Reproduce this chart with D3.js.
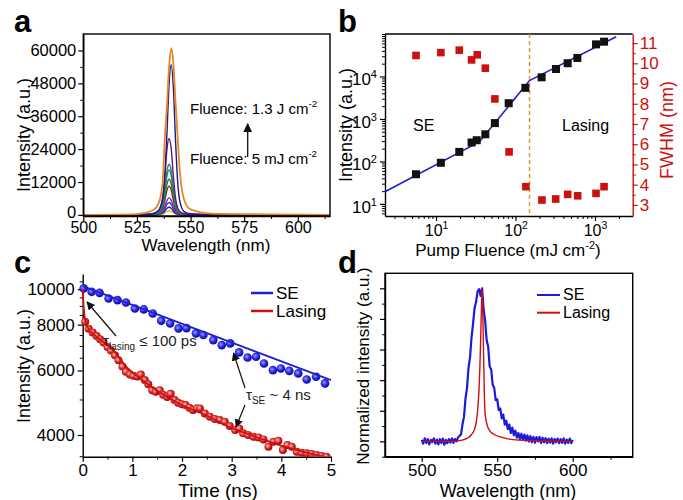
<!DOCTYPE html>
<html>
<head>
<meta charset="utf-8">
<script src="https://cdn.jsdelivr.net/npm/d3@7"></script>
<style>
  body { margin: 0; background: #fff; }
  svg text { font-family: "Liberation Sans", Arial, sans-serif; }
</style>
</head>
<body>
<svg id="fig" width="683" height="500"></svg>
<script>
// ---------- panel a : emission spectra at increasing fluence ----------
var aWave   = [500, 525, 532, 535, 537, 538, 539, 540, 541, 542, 543, 544, 545, 547, 550, 560, 615];
var aYellow = [0, 5, 20, 80, 320, 750, 1300, 1500, 1300, 750, 320, 140, 65, 20, 8, 3, 0];
var aNavy2  = [0, 5, 40, 150, 600, 1400, 2400, 2800, 2400, 1400, 600, 250, 120, 40, 15, 5, 0];
var aBlue   = [0, 10, 60, 240, 970, 2270, 3870, 4500, 3870, 2270, 970, 400, 190, 60, 25, 10, 0];
var aViolet = [0, 10, 90, 330, 1330, 3100, 5300, 6200, 5300, 3100, 1330, 560, 270, 90, 35, 10, 0];
var aBrown  = [0, 20, 150, 560, 2250, 5300, 9000, 10500, 9000, 5300, 2250, 950, 450, 150, 60, 20, 0];
var aDkGreen= [0, 20, 180, 700, 2800, 6600, 11200, 13000, 11200, 6600, 2800, 1200, 560, 180, 70, 20, 0];
var aGreen  = [0, 30, 230, 900, 3500, 8400, 14200, 16500, 14200, 8400, 3500, 1500, 700, 230, 90, 30, 0];
var aTeal   = [0, 30, 250, 1000, 4000, 9500, 16000, 18500, 16000, 9500, 4000, 1700, 800, 260, 100, 30, 0];
var aPurple = [0, 50, 400, 1500, 6000, 14000, 24000, 27900, 24000, 14000, 6000, 2500, 1200, 400, 150, 50, 0];
var aNavy   = [0, 50, 300, 1500, 6000, 14000, 30000, 48000, 54800, 46000, 27000, 12000, 5000, 1200, 400, 100, 0];
var aOrange = [0, 300, 1500, 4000, 12000, 28000, 40000, 54000, 60800, 55000, 41000, 28000, 16000, 5500, 2000, 500, 30];
var aColors = ["#d8c21a", "#23237a", "#2f2fe0", "#8a22d0", "#7a2e12", "#3b6e2a", "#2a9a3a", "#2a7a8a", "#5e1a80", "#1a1a90", "#ea8420"];
var aXTicks = [500, 525, 550, 575, 600];
var aYTicks = [0, 12000, 24000, 36000, 48000, 60000];

// ---------- panel b : intensity and FWHM vs pump fluence ----------
var bFluence   = [5.6, 11.5, 19.6, 28, 32.5, 41.7, 55, 82, 133, 213, 323, 453, 600, 1030, 1300];
var bIntensity = [50, 93, 168, 279, 316, 436, 800, 2350, 5400, 9550, 15000, 20500, 27300, 57000, 66000];
var bFwhmFluence = [5.6, 11.5, 19.6, 28, 33, 41.7, 55, 83, 135, 215, 320, 453, 605, 1030, 1300];
var bFwhm      = [10.39, 10.53, 10.65, 10.17, 10.42, 9.76, 8.24, 5.62, 3.9, 3.24, 3.29, 3.52, 3.45, 3.57, 3.9];
var bFitFluence   = [2.28, 35, 150, 1850];
var bFitIntensity = [19.4, 288, 8000, 86000];
var bThreshold = 150;
var bXTicks = [10, 100, 1000];
var bYTicks = [10, 100, 1000, 10000];
var bY2Ticks = [3, 4, 5, 6, 7, 8, 9, 10, 11];

// ---------- panel c : decay traces ----------
var cSeT = [0.02, 0.18, 0.34, 0.52, 0.70, 0.87, 1.05, 1.23, 1.41, 1.58, 1.76, 1.93, 2.09, 2.28, 2.43,
            2.63, 2.80, 2.97, 3.15, 3.32, 3.49, 3.65, 3.83, 3.99, 4.16, 4.34, 4.51, 4.70, 4.88];
var cSeV = [10050, 9834, 9772, 9431, 9333, 9197, 8859, 8805, 8583, 8196, 8061, 7815, 7830, 7575, 7495,
            7261, 7036, 7112, 6721, 6512, 6540, 6271, 6012, 6076, 5986, 5890, 5671, 5765, 5532];
var cLasT = [0.05, 0.12, 0.2, 0.28, 0.35, 0.42, 0.5, 0.57, 0.65, 0.72, 0.8, 0.87, 0.95, 1.02, 1.1, 1.17,
             1.25, 1.32, 1.4, 1.47, 1.55, 1.62, 1.7, 1.77, 1.85, 1.92, 2.0, 2.07, 2.15, 2.22, 2.3, 2.36,
             2.46, 2.56, 2.66, 2.76, 2.86, 2.96, 3.07, 3.15, 3.23, 3.33, 3.44, 3.54, 3.64, 3.74, 3.84,
             3.94, 4.03, 4.12, 4.21, 4.31, 4.41, 4.51, 4.61, 4.71, 4.81, 4.91];
var cLasV = [8150, 7800, 7620, 7450, 7300, 7150, 6950, 6800, 6600, 6400, 6150, 5950, 5850, 5800, 5780, 5850,
             5650, 5500, 5300, 5250, 5300, 5150, 5080, 5180, 4980, 4900, 4850, 4830, 4750, 4680, 4730, 4728,
             4581, 4485, 4420, 4393, 4346, 4230, 4125, 4169, 4041, 3998, 3955, 3940, 3891, 3715, 3833,
             3857, 3639, 3755, 3715, 3600, 3578, 3564, 3548, 3526, 3504, 3488];
var cSeFitT = [0, 5];
var cSeFitV = [10190, 5646];
var cLasFitT = [0, 0.03, 0.08, 0.3, 0.6, 0.9, 1.2, 1.5, 2.0, 2.5, 3.0, 3.5, 4.0, 4.5, 5.0];
var cLasFitV = [10000, 8600, 7950, 7380, 6850, 6100, 5650, 5280, 4830, 4520, 4180, 3950, 3740, 3580, 3460];
var cXTicks = [0, 1, 2, 3, 4, 5];
var cYTicks = [4000, 6000, 8000, 10000];

// ---------- panel d : normalised spectra ----------
var dSeWave = [500, 501, 502, 503, 504, 505, 506, 507, 508, 509, 510, 511, 512, 513, 514, 515, 516, 517, 518, 519,
               520, 521, 522, 523, 524, 525, 526, 527, 528, 529, 530, 531, 532, 533, 534, 535, 536, 537, 538, 539,
               540, 541, 542, 543, 544, 545, 546, 547, 548, 549, 550, 551, 552, 553, 554, 555, 556, 557, 558, 559,
               560, 561, 562, 563, 564, 565, 566, 567, 568, 569, 570, 571, 572, 573, 574, 575, 576, 577, 578, 579,
               580, 581, 582, 583, 584, 585, 586, 587, 588, 589, 590, 591, 592, 593, 594, 595, 596, 597, 598, 599, 600];
var dSe = [0.010, -0.015, 0.020, -0.010, 0.015, -0.020, 0.010, -0.005, 0.020, -0.015, 0.012, -0.020, 0.015, -0.010,
           0.018, -0.022, 0.010, -0.012, 0.015, -0.008, 0.020, -0.010, 0.016, 0.000, 0.025, 0.035, 0.045, 0.110,
           0.160, 0.280, 0.350, 0.480, 0.550, 0.680, 0.770, 0.870, 0.910, 0.980, 0.995, 0.950, 1.000, 0.860,
           0.790, 0.660, 0.620, 0.490, 0.470, 0.370, 0.350, 0.270, 0.275, 0.205, 0.215, 0.150, 0.175, 0.110,
           0.135, 0.080, 0.110, 0.055, 0.090, 0.040, 0.070, 0.025, 0.055, 0.015, 0.050, 0.010, 0.045, 0.005,
           0.040, 0.000, 0.035, -0.005, 0.030, -0.008, 0.028, 0.000, 0.030, -0.010, 0.024, -0.006, 0.022, -0.012,
           0.018, -0.008, 0.020, -0.015, 0.016, -0.006, 0.018, -0.012, 0.015, -0.010, 0.020, -0.015, 0.012,
           -0.010, 0.018, -0.012, 0.010];
var dLasWave = [500, 520, 525, 528, 531, 533, 535, 536, 537, 538, 538.5, 539, 539.5, 540, 540.5, 541, 541.5,
                542, 543, 545, 548, 552, 558, 565, 580, 600];
var dLas = [0, 0, 0.005, 0.012, 0.025, 0.045, 0.08, 0.12, 0.2, 0.35, 0.48, 0.65, 0.85, 1.0, 0.82, 0.55, 0.3,
            0.18, 0.12, 0.07, 0.045, 0.03, 0.015, 0.008, 0.003, 0.0];
var dXTicks = [500, 550, 600];
var dYTicks = [0, 0.2, 0.4, 0.6, 0.8, 1.0];

// ---------------------------------------------------------------
var svg = d3.select("#fig");
svg.append("rect").attr("width", 683).attr("height", 500).attr("fill", "#fff");
var defs = svg.append("defs");

var SE_BLUE = "#1f1fd0", LAS_RED = "#cc1010", TICK_FS = 17;

function styleAxis(g, color, fs) {
  color = color || "#000";
  g.select(".domain").attr("stroke", color).attr("stroke-width", 1.4);
  g.selectAll(".tick line").attr("stroke", color).attr("stroke-width", 1.2);
  g.selectAll(".tick text").attr("fill", color).attr("font-size", fs || TICK_FS);
}
function minorAxis(g, color) {
  g.select(".domain").remove();
  g.selectAll(".tick text").remove();
  g.selectAll(".tick line").attr("stroke", color || "#000").attr("stroke-width", 1);
}
function supText(sel, base, sup, after) {
  sel.append("tspan").text(base);
  sel.append("tspan").attr("dy", -7).attr("font-size", "0.65em").text(sup);
  if (after) sel.append("tspan").attr("dy", 7).text(after);
}
function panelLetter(t, x, y) {
  svg.append("text").attr("x", x).attr("y", y).attr("font-size", 31).attr("font-weight", "bold").text(t);
}
function vLabel(x, y, color, fs) {
  return svg.append("text").attr("transform", "translate(" + x + "," + y + ") rotate(-90)")
    .attr("text-anchor", "middle").attr("font-size", fs || 18).attr("fill", color || "#000");
}
function clip(id, x0, y0, x1, y1) {
  defs.append("clipPath").attr("id", id).append("rect")
    .attr("x", x0).attr("y", y0).attr("width", x1 - x0).attr("height", y1 - y0);
}

// arrow markers
defs.append("marker").attr("id", "arr").attr("viewBox", "0 0 10 10").attr("refX", 9).attr("refY", 5)
  .attr("markerWidth", 7).attr("markerHeight", 7).attr("orient", "auto-start-reverse")
  .append("path").attr("d", "M0,0 L10,5 L0,10 z").attr("fill", "#111");

// sphere-like dots
function sphere(id, c0, c1, c2) {
  var g = defs.append("radialGradient").attr("id", id).attr("cx", "40%").attr("cy", "40%").attr("r", "60%");
  g.append("stop").attr("offset", "0%").attr("stop-color", c0);
  g.append("stop").attr("offset", "55%").attr("stop-color", c1);
  g.append("stop").attr("offset", "100%").attr("stop-color", c2);
}
sphere("gBlue", "#9a9aff", "#2a2ae6", "#0a0a9a");
sphere("gRed", "#ffc8c8", "#dc2a2a", "#a00000");

// ================= panel a =================
var ax = d3.scaleLinear().domain([500, 615]).range([83.3, 330]);
var ay = d3.scaleLinear().domain([-400, 66000]).range([216, 34]);
clip("clipA", 83.3, 34, 330, 216);

var aSeries = [aYellow, aNavy2, aBlue, aViolet, aBrown, aDkGreen, aGreen, aTeal, aPurple, aNavy, aOrange];
var aLine = d3.line().x(function(d, i) { return ax(aWave[i]); }).y(function(d) { return ay(d); })
  .curve(d3.curveMonotoneX);
var gA = svg.append("g").attr("clip-path", "url(#clipA)");
aSeries.forEach(function(s, k) {
  gA.append("path").datum(s).attr("d", aLine).attr("fill", "none")
    .attr("stroke", aColors[k]).attr("stroke-width", k == 10 ? 1.8 : 1.4);
});

svg.append("g").attr("transform", "translate(0,216)")
  .call(d3.axisBottom(ax).tickValues([512.5, 537.5, 562.5, 587.5, 612.5]).tickSize(3)).call(minorAxis);
svg.append("g").attr("transform", "translate(0,216)")
  .call(d3.axisBottom(ax).tickValues(aXTicks).tickSize(5).tickSizeOuter(0).tickPadding(1))
  .call(styleAxis, "#000", 16);
svg.append("g").attr("transform", "translate(83.3,0)")
  .call(d3.axisLeft(ay).tickValues([6000, 18000, 30000, 42000, 54000]).tickSize(3)).call(minorAxis);
var ayAxis = svg.append("g").attr("transform", "translate(83.3,0)")
  .call(d3.axisLeft(ay).tickValues(aYTicks).tickSize(5).tickSizeOuter(0).tickPadding(2).tickFormat(d3.format("d")))
  .call(styleAxis, "#000", 16.5);
// lift the "0" label a little so it clears the x tick labels
ayAxis.selectAll(".tick text").filter(function(d) { return d === 0; }).attr("dy", "0.15em");
svg.append("rect").attr("x", 83.3).attr("y", 34).attr("width", 330 - 83.3).attr("height", 182)
  .attr("fill", "none").attr("stroke", "#000").attr("stroke-width", 1.4);

supText(svg.append("text").attr("x", 190).attr("y", 114).attr("font-size", 15), "Fluence: 1.3 J cm", "-2");
supText(svg.append("text").attr("x", 190).attr("y", 164).attr("font-size", 15), "Fluence: 5 mJ cm", "-2");
svg.append("line").attr("x1", 247.7).attr("y1", 157).attr("x2", 247.7).attr("y2", 124)
  .attr("stroke", "#111").attr("stroke-width", 1.3).attr("marker-end", "url(#arr)");

svg.append("text").attr("x", 206).attr("y", 251).attr("text-anchor", "middle").attr("font-size", 17)
  .text("Wavelength (nm)");
vLabel(30, 135).text("Intensity (a.u.)");
panelLetter("a", 14, 32);

// ================= panel b =================
var bx = d3.scaleLog().domain([2.28, 2980]).range([385, 632.7]);
var by = d3.scaleLog().domain([5.2, 1e5]).range([216, 34]);
var by2 = d3.scaleLinear().domain([2.45, 11.45]).range([216, 34]);
clip("clipB", 385, 34, 632.7, 216);

var bxMinor = bx.ticks().filter(function(v) { return bXTicks.indexOf(v) < 0; });
var byMinor = by.ticks().filter(function(v) { return bYTicks.indexOf(v) < 0; });

svg.append("g").attr("transform", "translate(0,216)")
  .call(d3.axisBottom(bx).tickValues(bxMinor).tickSize(3)).call(minorAxis);
var bxAxis = svg.append("g").attr("transform", "translate(0,216)")
  .call(d3.axisBottom(bx).tickValues(bXTicks).tickSize(5).tickSizeOuter(0).tickPadding(4).tickFormat(""))
  .call(styleAxis, "#000", 16);
bxAxis.selectAll(".tick text").each(function(d) {
  supText(d3.select(this), "10", String(Math.round(Math.log10(d))));
});
svg.append("g").attr("transform", "translate(385,0)")
  .call(d3.axisLeft(by).tickValues(byMinor).tickSize(3)).call(minorAxis);
var byAxis = svg.append("g").attr("transform", "translate(385,0)")
  .call(d3.axisLeft(by).tickValues(bYTicks).tickSize(5).tickSizeOuter(0).tickPadding(3).tickFormat(""))
  .call(styleAxis);
byAxis.selectAll(".tick text").attr("dy", "0.5em").each(function(d) {
  supText(d3.select(this), "10", String(Math.round(Math.log10(d))));
});
svg.append("g").attr("transform", "translate(632.7,0)")
  .call(d3.axisRight(by2).tickValues([3.5, 4.5, 5.5, 6.5, 7.5, 8.5, 9.5, 10.5]).tickSize(3))
  .call(minorAxis, LAS_RED);
svg.append("g").attr("transform", "translate(632.7,0)")
  .call(d3.axisRight(by2).tickValues(bY2Ticks).tickSize(5).tickSizeOuter(0).tickPadding(2))
  .call(styleAxis, LAS_RED);
// top frame
svg.append("line").attr("x1", 385).attr("x2", 632.7).attr("y1", 34).attr("y2", 34)
  .attr("stroke", "#000").attr("stroke-width", 1.4);

var gB = svg.append("g").attr("clip-path", "url(#clipB)");
gB.append("line").attr("x1", bx(bThreshold)).attr("x2", bx(bThreshold)).attr("y1", 34).attr("y2", 216)
  .attr("stroke", "#e8902a").attr("stroke-width", 1.4).attr("stroke-dasharray", "4,3");
gB.append("path").datum(bFitFluence)
  .attr("d", d3.line().x(function(d) { return bx(d); }).y(function(d, i) { return by(bFitIntensity[i]); }))
  .attr("fill", "none").attr("stroke", "#2222c8").attr("stroke-width", 1.6);
gB.selectAll(".fw").data(bFwhm).enter().append("rect")
  .attr("x", function(d, i) { return bx(bFwhmFluence[i]) - 3.8; })
  .attr("y", function(d) { return by2(d) - 3.8; })
  .attr("width", 7.6).attr("height", 7.6).attr("fill", LAS_RED);
gB.selectAll(".it").data(bIntensity).enter().append("rect")
  .attr("x", function(d, i) { return bx(bFluence[i]) - 4; })
  .attr("y", function(d) { return by(d) - 4; })
  .attr("width", 8).attr("height", 8).attr("fill", "#111");

svg.append("text").attr("x", 413).attr("y", 131).attr("font-size", 16).text("SE");
svg.append("text").attr("x", 562).attr("y", 131).attr("font-size", 16).text("Lasing");
supText(svg.append("text").attr("x", 508).attr("y", 256).attr("text-anchor", "middle").attr("font-size", 17),
  "Pump Fluence (mJ cm", "-2", ")");
vLabel(352, 125).text("Intensity (a.u.)");
vLabel(673, 130, LAS_RED).text("FWHM (nm)");
panelLetter("b", 338, 32);

// ================= panel c =================
var cx = d3.scaleLinear().domain([0, 5]).range([82.7, 331]);
var cy = d3.scaleLog().domain([3490, 11000]).range([456.7, 274]);
clip("clipC", 78, 270, 336, 456.7);

svg.append("g").attr("transform", "translate(0,456.7)")
  .call(d3.axisBottom(cx).tickValues([0.5, 1.5, 2.5, 3.5, 4.5]).tickSize(3)).call(minorAxis);
svg.append("g").attr("transform", "translate(0,456.7)")
  .call(d3.axisBottom(cx).tickValues(cXTicks).tickSize(5).tickSizeOuter(0).tickPadding(2).tickFormat(d3.format("d")))
  .call(styleAxis);
svg.append("g").attr("transform", "translate(82.7,0)")
  .call(d3.axisLeft(cy).tickValues([3500, 4500, 5000, 5500, 6500, 7000, 7500, 8500, 9000, 9500, 10500]).tickSize(3))
  .call(minorAxis);
svg.append("g").attr("transform", "translate(82.7,0)")
  .call(d3.axisLeft(cy).tickValues(cYTicks).tickSize(5).tickSizeOuter(0).tickPadding(3).tickFormat(d3.format("d")))
  .call(styleAxis);

var gC = svg.append("g").attr("clip-path", "url(#clipC)");
gC.selectAll(".sd").data(cSeV).enter().append("circle")
  .attr("cx", function(d, i) { return cx(cSeT[i]); }).attr("cy", function(d) { return cy(d); })
  .attr("r", 4.3).attr("fill", "url(#gBlue)");
gC.selectAll(".ld").data(cLasV).enter().append("circle")
  .attr("cx", function(d, i) { return cx(cLasT[i]); }).attr("cy", function(d) { return cy(d); })
  .attr("r", 4).attr("fill", "url(#gRed)");
gC.append("path").datum(cSeFitV)
  .attr("d", d3.line().x(function(d, i) { return cx(cSeFitT[i]); }).y(function(d) { return cy(d); }))
  .attr("fill", "none").attr("stroke", SE_BLUE).attr("stroke-width", 1.8);
gC.append("path").datum(cLasFitV)
  .attr("d", d3.line().x(function(d, i) { return cx(cLasFitT[i]); }).y(function(d) { return cy(d); })
    .curve(d3.curveMonotoneX))
  .attr("fill", "none").attr("stroke", LAS_RED).attr("stroke-width", 1.8);

// legend c
svg.append("line").attr("x1", 251).attr("x2", 273).attr("y1", 293).attr("y2", 293)
  .attr("stroke", SE_BLUE).attr("stroke-width", 2.5);
svg.append("text").attr("x", 276).attr("y", 299).attr("font-size", 17).text("SE");
svg.append("line").attr("x1", 251).attr("x2", 273).attr("y1", 311).attr("y2", 311)
  .attr("stroke", LAS_RED).attr("stroke-width", 2.5);
svg.append("text").attr("x", 276).attr("y", 317).attr("font-size", 17).text("Lasing");

// annotations c
var t1 = svg.append("text").attr("x", 103).attr("y", 346).attr("font-size", 15).attr("fill", "#222");
t1.append("tspan").text("\u03c4");
t1.append("tspan").attr("dy", 4).attr("font-size", 10).text("lasing");
t1.append("tspan").attr("dy", -4).text(" \u2264 100 ps");
svg.append("line").attr("x1", 116).attr("y1", 336).attr("x2", 87).attr("y2", 302)
  .attr("stroke", "#111").attr("stroke-width", 1.2).attr("marker-end", "url(#arr)");
var t2 = svg.append("text").attr("x", 246).attr("y", 400).attr("font-size", 15).attr("fill", "#222");
t2.append("tspan").text("\u03c4");
t2.append("tspan").attr("dy", 4).attr("font-size", 10).text("SE");
t2.append("tspan").attr("dy", -4).text(" ~ 4 ns");
svg.append("line").attr("x1", 245).attr("y1", 388).attr("x2", 233.5).attr("y2", 353)
  .attr("stroke", "#111").attr("stroke-width", 1.2).attr("marker-end", "url(#arr)");
svg.append("line").attr("x1", 245).attr("y1", 405).attr("x2", 236).attr("y2", 427)
  .attr("stroke", "#111").attr("stroke-width", 1.2).attr("marker-end", "url(#arr)");

svg.append("text").attr("x", 218).attr("y", 497).attr("text-anchor", "middle").attr("font-size", 19)
  .text("Time (ns)");
vLabel(30, 366).text("Intensity (a.u.)");
panelLetter("c", 14, 273);

// ================= panel d =================
var dx = d3.scaleLinear().domain([475.7, 639.7]).range([385, 632.7]);
var dy = d3.scaleLinear().domain([-0.1, 1.098]).range([456.7, 273.3]);

svg.append("g").attr("transform", "translate(0,456.7)")
  .call(d3.axisBottom(dx).tickValues([525, 575, 625]).tickSize(3)).call(minorAxis);
svg.append("g").attr("transform", "translate(0,456.7)")
  .call(d3.axisBottom(dx).tickValues(dXTicks).tickSize(5).tickSizeOuter(0).tickPadding(2)).call(styleAxis);
svg.append("g").attr("transform", "translate(385,0)")
  .call(d3.axisLeft(dy).tickValues([-0.1, 0.1, 0.3, 0.5, 0.7, 0.9]).tickSize(3)).call(minorAxis);
svg.append("g").attr("transform", "translate(385,0)")
  .call(d3.axisLeft(dy).tickValues(dYTicks).tickSize(5).tickSizeOuter(0).tickFormat(""))
  .call(styleAxis);

svg.append("path").datum(dSe)
  .attr("d", d3.line().x(function(d, i) { return dx(dSeWave[i]); }).y(function(d) { return dy(d); }))
  .attr("fill", "none").attr("stroke", "#1a1ad8").attr("stroke-width", 2.2).attr("stroke-linejoin", "round");
svg.append("path").datum(dLas)
  .attr("d", d3.line().x(function(d, i) { return dx(dLasWave[i]); }).y(function(d) { return dy(d); })
    .curve(d3.curveMonotoneX))
  .attr("fill", "none").attr("stroke", LAS_RED).attr("stroke-width", 1.4);
svg.append("rect").attr("x", 385).attr("y", 273.3).attr("width", 632.7 - 385).attr("height", 456.7 - 273.3)
  .attr("fill", "none").attr("stroke", "#000").attr("stroke-width", 1.4);

svg.append("line").attr("x1", 537).attr("x2", 560).attr("y1", 295).attr("y2", 295)
  .attr("stroke", "#1a1ad8").attr("stroke-width", 2);
svg.append("text").attr("x", 563).attr("y", 300).attr("font-size", 16).text("SE");
svg.append("line").attr("x1", 537).attr("x2", 560).attr("y1", 312.7).attr("y2", 312.7)
  .attr("stroke", LAS_RED).attr("stroke-width", 2);
svg.append("text").attr("x", 563).attr("y", 318).attr("font-size", 16).text("Lasing");

svg.append("text").attr("x", 508).attr("y", 497).attr("text-anchor", "middle").attr("font-size", 18)
  .text("Wavelength (nm)");
vLabel(369, 366, "#000", 17).text("Normalized intensity (a.u.)");
panelLetter("d", 338, 273);
</script>
</body>
</html>
